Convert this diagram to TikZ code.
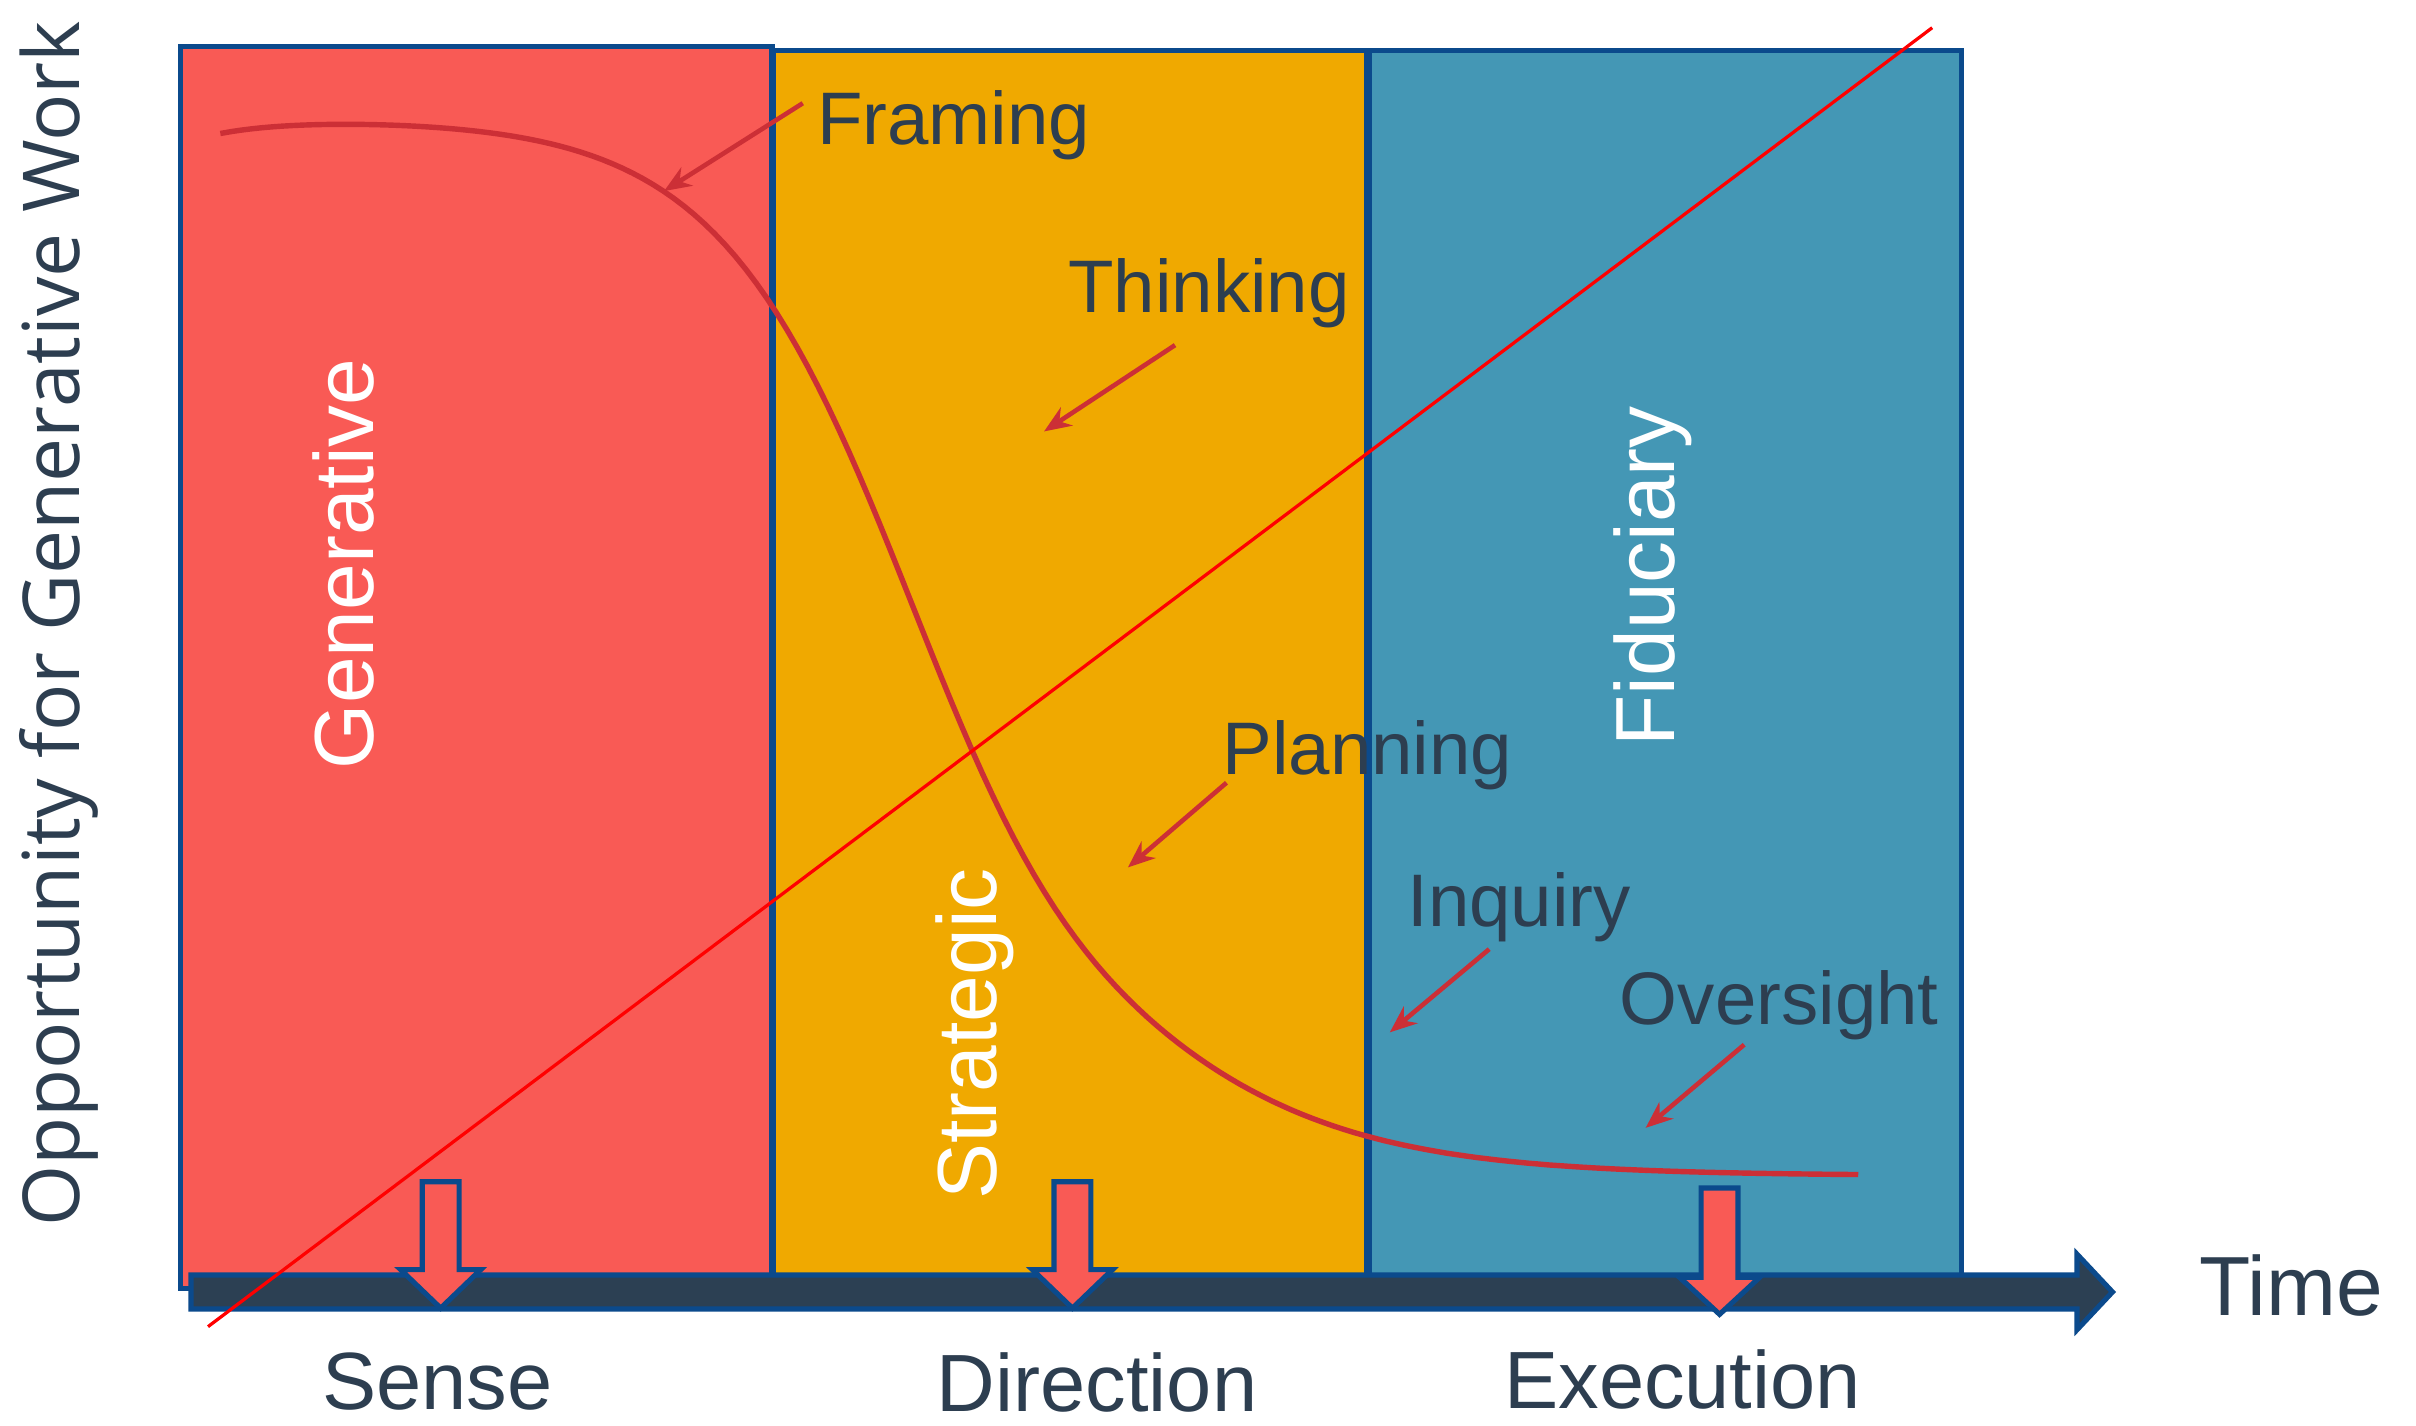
\documentclass[tikz,border=0pt]{standalone}
\usepackage{fontspec}
\setmainfont{Liberation Sans}
\newfontfamily\axisfont{Open Sans}
\usetikzlibrary{arrows.meta}
\definecolor{genred}{HTML}{F95A55}
\definecolor{stratorange}{HTML}{F0A900}
\definecolor{fidblue}{HTML}{4497B5}
\definecolor{edgeblue}{HTML}{0B4A8C}
\definecolor{axisnavy}{HTML}{2C4053}
\definecolor{labelgray}{HTML}{2D3E50}
\definecolor{curvered}{HTML}{CC2F36}
\tikzset{
  phase/.style={draw=edgeblue, line width=1.9pt},
  marker/.style={draw=edgeblue, line width=1.9pt, fill=genred},
  note/.style={draw=curvered, line width=1.7pt, -{Stealth[length=10pt,width=8pt]}},
  stage/.style={text=labelgray, font=\fontsize{27.5}{33}\selectfont, anchor=base west, inner sep=0pt},
  phasename/.style={text=white, font=\fontsize{31}{37}\selectfont, rotate=90, anchor=base, inner sep=0pt},
  milestone/.style={text=labelgray, font=\fontsize{30}{36}\selectfont, anchor=base, inner sep=0pt}
}
\begin{document}
\begin{tikzpicture}[x=0.02cm, y=-0.02cm]
    \useasboundingbox (0,0) rectangle (1568,925);
    \draw[phase, fill=genred] (117,30) rectangle (501,836);
    \draw[phase, fill=stratorange] (502,33) rectangle (887,828);
    \draw[phase, fill=fidblue] (889,33) rectangle (1273,828);
    \draw[phase, fill=axisnavy] (124,827.5) -- (1348,827.5) -- (1348,814) -- (1371,838.5) -- (1348,863) -- (1348,849.5) -- (124,849.5) -- cycle;
    \draw[marker] (274,767) -- (298,767) -- (298,824) -- (312,824) -- (286,849) -- (260,824) -- (274,824) -- cycle;
    \draw[marker] (684,767) -- (708,767) -- (708,824) -- (722,824) -- (696,849) -- (670,824) -- (684,824) -- cycle;
    \draw[marker] (1104,771) -- (1128,771) -- (1128,829) -- (1142,829) -- (1116,853) -- (1090,829) -- (1104,829) -- cycle;
    \draw[curvered, line width=2pt] plot[domain=143:1206, samples=160] (\x, {77 + 686/(1+exp(-(\x-603)/(77+11*tanh(max(-4,min(4,(\x-700)/100)))))) + 9*exp(-min(9,(\x-143)/45))});
    \coordinate (trendStart) at (135,861);
    \coordinate (trendEnd) at (1254,18);
    \draw[red, line width=1.2pt] (trendStart) -- (trendEnd);
    \node[phasename] (generative) at (242.7,366) {Generative};
    \node[phasename] (strategic) at (647,671) {Strategic};
    \node[phasename] (fiduciary) at (1086.5,374) {Fiduciary};
    \node[stage] (framing) at (530,93.5) {Framing};
    \node[stage] (thinking) at (693,203) {Thinking};
    \node[stage] (planning) at (793,502.5) {Planning};
    \node[stage] (inquiry) at (913,601.4) {Inquiry};
    \node[stage] (oversight) at (1051,665.2) {Oversight};
    \coordinate (framingTail) at (521,67);
    \coordinate (framingTip) at (431,124);
    \coordinate (thinkingTail) at (762.6,224);
    \coordinate (thinkingTip) at (677.6,280);
    \coordinate (planningTail) at (796,508);
    \coordinate (planningTip) at (732,563);
    \coordinate (inquiryTail) at (966.5,616);
    \coordinate (inquiryTip) at (902,670);
    \coordinate (oversightTail) at (1132,678);
    \coordinate (oversightTip) at (1068,732);
    \draw[note] (framingTail) -- (framingTip);
    \draw[note] (thinkingTail) -- (thinkingTip);
    \draw[note] (planningTail) -- (planningTip);
    \draw[note] (inquiryTail) -- (inquiryTip);
    \draw[note] (oversightTail) -- (oversightTip);
    \node[milestone] (sense) at (284,915) {Sense};
    \node[milestone] (direction) at (712,916) {Direction};
    \node[milestone] (execution) at (1092,914) {Execution};
    \node[text=labelgray, font=\fontsize{31}{37}\selectfont, anchor=base west, inner sep=0pt] (time) at (1427,854) {Time};
    \node[text=labelgray, font=\axisfont\fontsize{29}{35}\selectfont, rotate=90, anchor=base, inner sep=0pt] (opportunity) at (51.7,405) {Opportunity for Generative Work};
\end{tikzpicture}
\end{document}
